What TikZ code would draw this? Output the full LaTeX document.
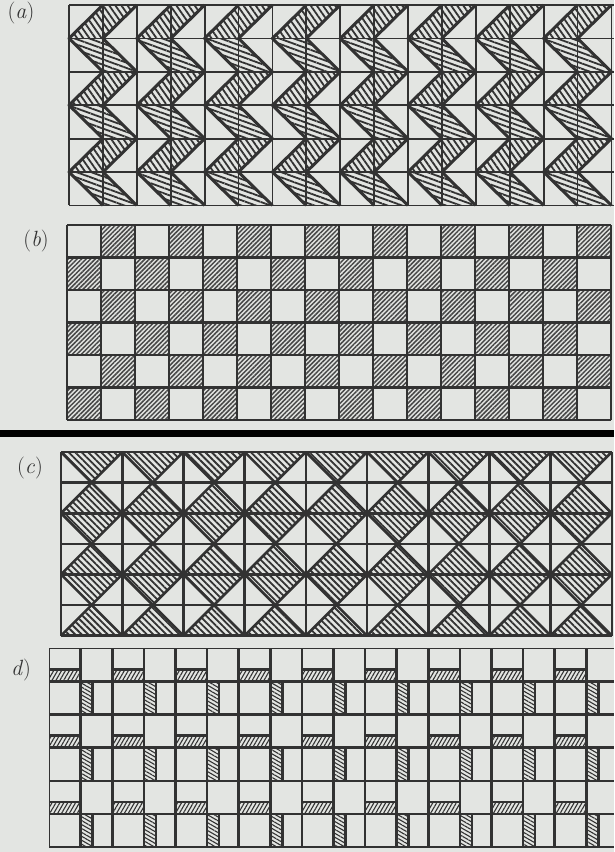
\documentclass[tikz,border=0pt]{standalone}
\usetikzlibrary{patterns.meta}
\definecolor{paper}{RGB}{227,229,226}
\definecolor{ink}{RGB}{50,50,50}

\begin{document}
\begin{tikzpicture}[x=1pt,y=-1pt,line join=round,
  gridline/.style={draw=ink,line width=1.8pt},
  boldline/.style={draw=ink,line width=2.6pt},
  zigline/.style={draw=ink,line width=3pt},
  upband/.style={pattern={Lines[angle=-55,distance=5pt,line width=1.8pt]},pattern color=ink},
  downband/.style={pattern={Lines[angle=-20,distance=5pt,line width=1.8pt]},pattern color=ink},
  checkcell/.style={pattern={Lines[angle=45,distance=3.2pt,line width=1.5pt]},pattern color=ink!90},
  diamondhalf/.style={pattern={Lines[angle=-45,distance=4.6pt,line width=1.8pt]},pattern color=ink},
  hstrip/.style={pattern={Lines[angle=60,distance=3.4pt,line width=1.1pt]},pattern color=ink},
  vstrip/.style={pattern={Lines[angle=-30,distance=3.4pt,line width=1.1pt]},pattern color=ink},
  panellabel/.style={font=\fontsize{22}{22}\selectfont,text=ink}]
\useasboundingbox (0,0) rectangle (614,852);
\fill[paper] (0,0) rectangle (614,852);
\fill[black] (0,430) rectangle (614,437);

% (a) zigzag bands
\node[panellabel] (la) at (21,13) {(\textit{a})};
\begin{scope}
  \clip (60,0) rectangle (614,215);
  \foreach \i in {0,...,7}{
    \pgfmathsetmacro\L{69+2*\i*33.9}
    \foreach \r in {0,2,4}
      \fill[upband] (\L,{5+(\r+1)*33.4}) -- ++(33.9,-33.4) -- ++(33.9,0) -- ++(-33.9,33.4) -- cycle;
    \foreach \r in {1,3,5}
      \fill[downband] (\L,{5+\r*33.4}) -- ++(33.9,0) -- ++(33.9,33.4) -- ++(-33.9,0) -- cycle;
  }
  \foreach \k in {0,...,16} \draw[gridline] ({69+\k*33.9},5) -- ++(0,200.4);
  \foreach \r in {0,...,6} \draw[gridline] (69,{5+\r*33.4}) -- (614,{5+\r*33.4});
  \foreach \i in {0,...,7}{
    \pgfmathsetmacro\L{69+2*\i*33.9}
    \draw[zigline] ({\L+33.9},5) \foreach \r in {1,...,6}{ -- ({\L+33.9*mod(\r+1,2)},{5+\r*33.4}) };
    \draw[zigline] ({\L+67.8},5) \foreach \r in {1,...,6}{ -- ({\L+33.9+33.9*mod(\r+1,2)},{5+\r*33.4}) };
  }
\end{scope}

% (b) chequer
\node[panellabel] (lb) at (36,241) {(\textit{b})};
\foreach \r in {0,2,4} \foreach \c in {1,3,...,15}
  \fill[checkcell] ({67+\c*34},{225+\r*32.5}) rectangle ++(34,32.5);
\foreach \r in {1,3,5} \foreach \c in {0,2,...,14}
  \fill[checkcell] ({67+\c*34},{225+\r*32.5}) rectangle ++(34,32.5);
\foreach \c in {0,...,16} \draw[boldline] ({67+\c*34},225) -- ++(0,195);
\foreach \r in {0,...,6} \draw[boldline] (67,{225+\r*32.5}) -- (611,{225+\r*32.5});

% (c) diamonds
\node[panellabel] (lc) at (30,468) {(\textit{c})};
\begin{scope}
  \clip (61,452) rectangle (611.8,635.6);
  \foreach \i in {0,...,8} \foreach \j in {0,...,3}{
    \fill[diamondhalf] ({61+(2*\i+1)*30.6},{452+2*\j*30.6}) -- ++(-30.6,0) -- ++(30.6,-30.6) -- ++(30.6,30.6) -- cycle;
    \fill[diamondhalf] ({61+(2*\i+1)*30.6},{452+2*\j*30.6}) -- ++(-30.6,0) -- ++(30.6,30.6) -- ++(30.6,-30.6) -- cycle;
  }
  \foreach \k in {-3,...,12}{
    \draw[boldline] ({61+2*\k*30.6},452) -- ++(183.6,183.6);
    \draw[boldline] ({61+2*\k*30.6},452) -- ++(-183.6,183.6);
  }
\end{scope}
\foreach \k in {0,...,9} \draw[boldline] ({61+2*\k*30.6},452) -- ++(0,183.6);
\foreach \r in {0,...,6} \draw[boldline] (61,{452+\r*30.6}) -- ++(550.8,0);

% (d) strips
\node[panellabel] (ld) at (21,670) {\textit{d})};
\begin{scope}
  \clip (49,648) rectangle (614,847.2);
  \foreach \r in {0,2,4} \foreach \c in {0,2,...,18}{
    \fill[hstrip] ({49+\c*31.6},{648+(\r+0.64)*33.2}) rectangle ++(31.6,{0.36*33.2});
    \draw[boldline] ({49+\c*31.6},{648+(\r+0.64)*33.2}) -- ++(31.6,0);
  }
  \foreach \r in {1,3,5} \foreach \c in {1,3,...,17}{
    \fill[vstrip] ({49+\c*31.6},{648+\r*33.2}) rectangle ++({0.38*31.6},33.2);
    \draw[boldline] ({49+(\c+0.38)*31.6},{648+\r*33.2}) -- ++(0,33.2);
  }
  \foreach \c in {0,...,18} \draw[boldline] ({49+\c*31.6},648) -- ++(0,199.2);
  \foreach \r in {0,...,6} \draw[boldline] (49,{648+\r*33.2}) -- (614,{648+\r*33.2});
\end{scope}
\end{tikzpicture}
\end{document}
